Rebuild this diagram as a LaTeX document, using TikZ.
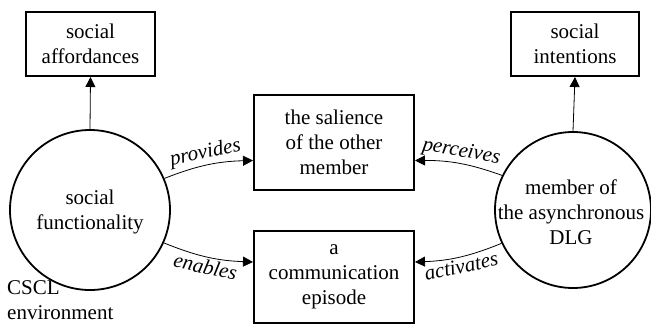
\documentclass[tikz,border=0pt]{standalone}
\usepackage{fontspec}
\setmainfont{Liberation Serif}
\usetikzlibrary{arrows.meta,shapes.geometric}
\tikzset{
  box/.style={draw, line width=2pt, rectangle, inner sep=0pt, align=center, font=\fontsize{21}{25}\selectfont},
  ring/.style={draw, line width=1.8pt, circle, inner sep=0pt},
  txt/.style={align=center, font=\fontsize{21}{25}\selectfont},
  conn/.style={line width=0.8pt, -{Triangle[length=10pt,width=10pt]}},
  lbl/.style={font=\fontsize{21}{25}\selectfont\itshape, inner sep=2pt}
}
\begin{document}
\begin{tikzpicture}[x=1pt,y=1pt]
\useasboundingbox (0,0) rectangle (651,325);
\node[box, minimum width=129pt, minimum height=64pt] (aff) at (90.5,281) {social\\affordances};
\node[box, minimum width=128pt, minimum height=64pt] (int) at (575,281) {social\\intentions};
\node[box, minimum width=160pt, minimum height=95pt] (sal) at (334,182.5) {the salience\\of the other\\member};
\node[box, minimum width=160pt, minimum height=92pt] (com) at (334,48) {a\\communication\\episode};
\node[ring, minimum size=160pt] (lc) at (90,115) {};
\node[ring, minimum size=156pt] (rc) at (573,115) {};
\node[txt] (lct) at (90,113) {social\\functionality};
\node[txt] (rct) at (571,113) {member of\\the asynchronous\\DLG};
\node[txt, align=left, anchor=west, inner sep=0pt] (env) at (7,25) {CSCL\\environment};
\draw[conn] (lc.north) -- (aff.south);
\draw[conn] (rc.north) -- (int.south);
\draw[conn] (lc.23) to[bend left=10] node[lbl, midway, above, sloped] {provides} ([yshift=-18pt]sal.west);
\draw[conn] (lc.-24) to[bend right=10] node[lbl, midway, below, sloped] {enables} ([yshift=15pt]com.west);
\draw[conn] (rc.154) to[bend right=10] node[lbl, midway, above, sloped] {perceives} ([yshift=-18pt]sal.east);
\draw[conn] (rc.205) to[bend left=10] node[lbl, midway, below, sloped] {activates} ([yshift=15pt]com.east);
\end{tikzpicture}
\end{document}
